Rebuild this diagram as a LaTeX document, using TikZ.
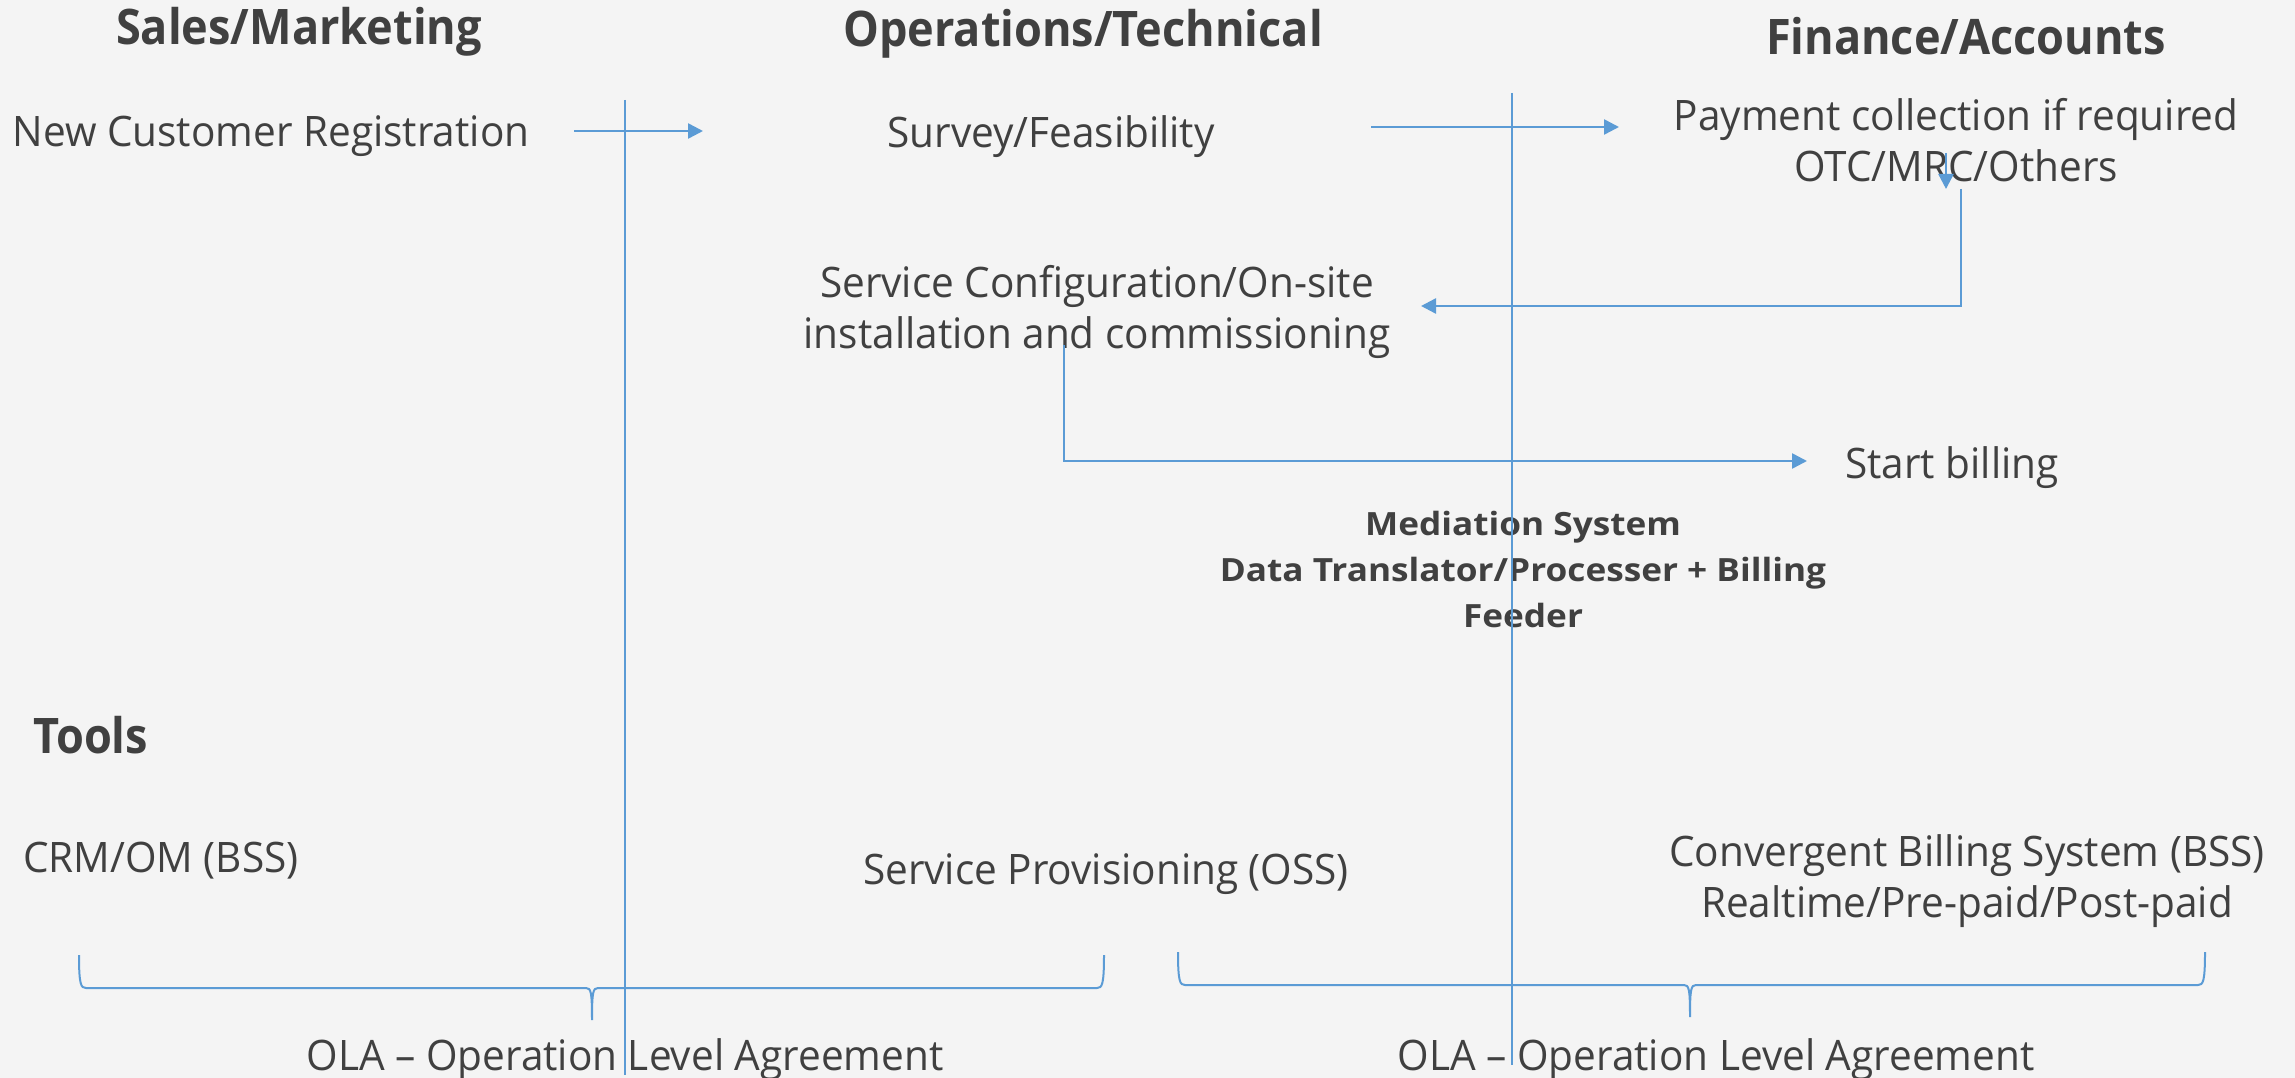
\documentclass[tikz,border=0pt]{standalone}
\usepackage{fontspec}
\setmainfont{Open Sans}[FakeStretch=0.965]
\newfontfamily\hdrfont{Open Sans}[FakeStretch=0.92]
\newfontfamily\medfont{Open Sans}[FakeStretch=1.1]
\usetikzlibrary{arrows.meta}
\definecolor{bgcol}{HTML}{F4F4F4}
\definecolor{inkgray}{HTML}{404040}
\definecolor{lineblue}{HTML}{5B9BD5}
\begin{document}
\begin{tikzpicture}[x=1pt,y=-1pt,
  every node/.style={text=inkgray,inner sep=0pt,anchor=base,align=center},
  lbl/.style={font=\fontsize{42}{51}\selectfont},
  hdr/.style={font=\hdrfont\fontsize{49}{58}\selectfont\bfseries},
  med/.style={font=\medfont\fontsize{32}{46}\selectfont\bfseries},
  divider/.style={draw=lineblue,line width=1.5pt},
  flow/.style={draw=lineblue,line width=2.5pt,-{Triangle[length=15pt,width=15pt]}},
  olabrace/.style={draw=lineblue,line width=2pt}]
  \fill[bgcol] (0,0) rectangle (2295,1078);
  \useasboundingbox (0,0) rectangle (2295,1078);
  % column headers
  \node[hdr] (sales) at (299,45) {Sales/Marketing};
  \node[hdr] (ops) at (1083,47) {Operations/Technical};
  \node[hdr] (fin) at (1966,55) {Finance/Accounts};
  % process steps (base = last line)
  \node[lbl] (reg) at (271,147) {New Customer Registration};
  \node[lbl] (survey) at (1051,148) {Survey/Feasibility};
  \node[lbl] (pay) at (1956,182) {Payment collection if required\\OTC/MRC/Others};
  \node[lbl] (config) at (1097,348) {Service Configuration/On-site\\installation and commissioning};
  \node[lbl] (bill) at (1952,478) {Start billing};
  \node[med] (medi) at (1523,627) {Mediation System\\Data Translator/Processer + Billing\\Feeder};
  % tools row
  \node[hdr,anchor=base west] (tools) at (33,753) {Tools};
  \node[lbl,anchor=base west] (crm) at (23,872) {CRM/OM (BSS)};
  \node[lbl] (prov) at (1106,884) {Service Provisioning (OSS)};
  \node[lbl] (cbs) at (1967,917) {Convergent Billing System (BSS)\\Realtime/Pre-paid/Post-paid};
  \node[lbl] (olaL) at (625,1070) {OLA – Operation Level Agreement};
  \node[lbl] (olaR) at (1716,1070) {OLA – Operation Level Agreement};
  % connector ends
  \coordinate (regout) at (574,131);
  \coordinate (surveyin) at (703,131);
  \coordinate (surveyout) at (1371,127);
  \coordinate (payin) at (1619,127);
  \coordinate (paytop) at (1946,153);
  \coordinate (paydown) at (1946,189);
  \coordinate (payout) at (1961,189);
  \coordinate (configin) at (1421,306);
  \coordinate (configout) at (1064,345);
  \coordinate (billin) at (1807,461);
  \draw[flow] (regout) -- (surveyin);
  \draw[flow] (surveyout) -- (payin);
  \draw[flow] (paytop) -- (paydown);
  \draw[flow] (payout) |- (configin);
  \draw[flow] (configout) |- (billin);
  % OLA braces
  \foreach \l/\m/\r/\t in {79/592/1104/955,1178/1690/2205/952}{
    \pgfmathsetmacro\h{\t+33}
    \pgfmathsetmacro\b{\t+65}
    \draw[olabrace] (\l,\t) .. controls (\l,\h-3) and (\l+2,\h) .. (\l+7,\h)
      -- (\m-6,\h) .. controls (\m-1,\h) and (\m,\h+4) .. (\m,\b)
      .. controls (\m,\h+4) and (\m+1,\h) .. (\m+6,\h)
      -- (\r-7,\h) .. controls (\r-2,\h) and (\r,\h-3) .. (\r,\t);
  }
  % department dividers
  \draw[divider] (625,100) -- (625,1075);
  \draw[divider] (1512,93) -- (1512,1065);
\end{tikzpicture}
\end{document}
